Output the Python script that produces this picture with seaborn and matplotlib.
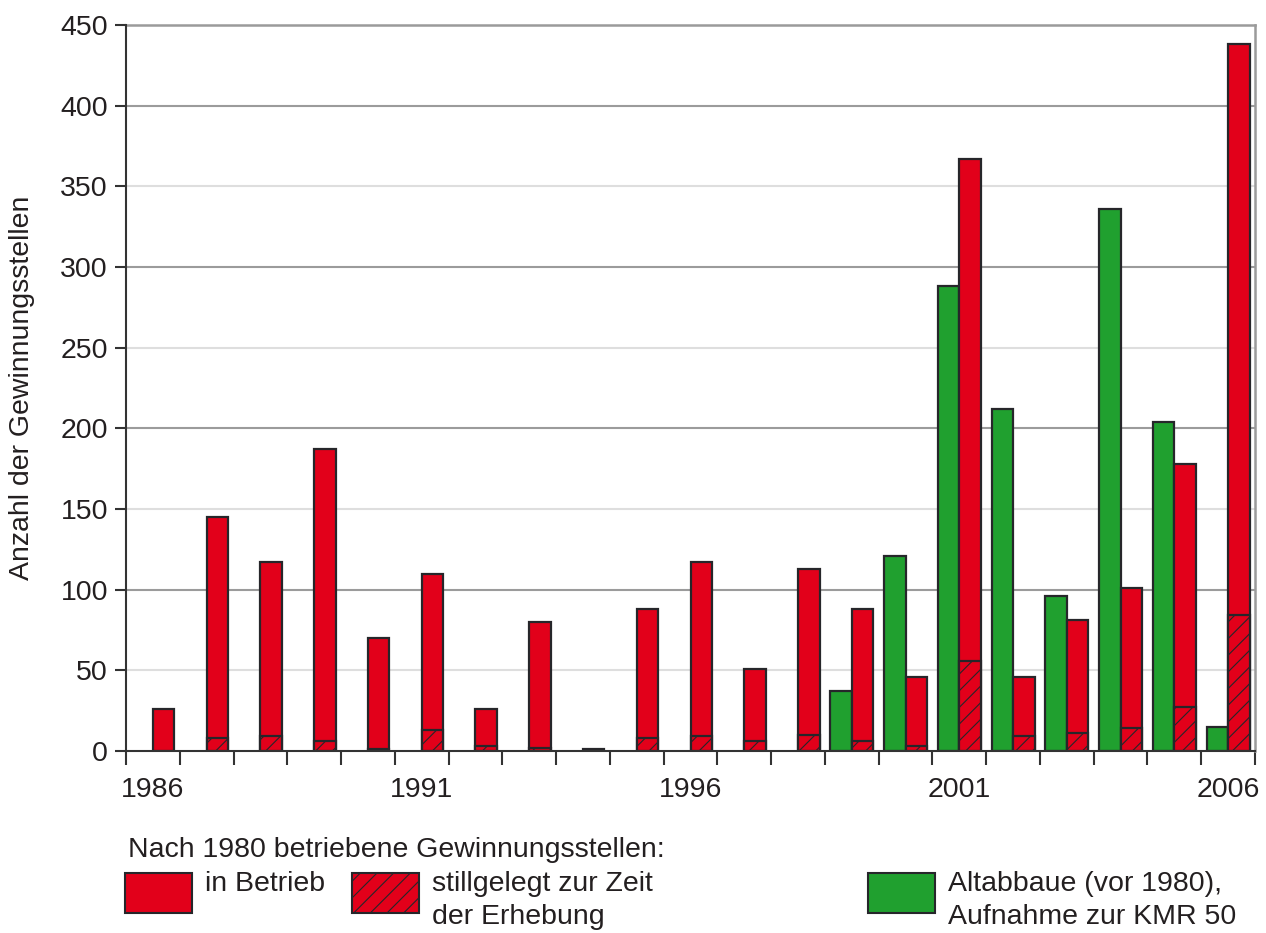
import numpy as np
import pandas as pd
import matplotlib
matplotlib.use("Agg")
import matplotlib.pyplot as plt
from matplotlib.patches import Rectangle
import seaborn as sns

# Data
years = list(range(1986, 2007))
in_betrieb_total = [26, 145, 117, 187, 70, 110, 26, 80, 1, 88, 117, 51, 113,
                    88, 46, 367, 46, 81, 101, 178, 438]
stillgelegt = [0, 8, 9, 6, 1, 13, 3, 2, 0, 8, 9, 6, 10,
               6, 3, 56, 9, 11, 14, 27, 84]
altabbaue = [0, 0, 0, 0, 0, 0, 0, 0, 0, 0, 0, 0, 0,
             37, 121, 288, 212, 96, 336, 204, 15]
year_labels = ["1986", "1991", "1996", "2001", "2006"]

RED = "#e2001a"
GREEN = "#20a02f"
EDGE = "#26262a"
TEXT = "#231f20"
FS = 20.5

sns.set_theme(style="white")
plt.rcParams['font.family'] = ['Liberation Sans', 'DejaVu Sans']
plt.rcParams['hatch.linewidth'] = 0.8


def build_frames():
    """Long-form frames for the total bars and the hatched part"""
    cats = [str(y) for y in years]
    total = pd.DataFrame({
        'Jahr': cats * 2,
        'Gruppe': ['alt'] * len(cats) + ['neu'] * len(cats),
        'Anzahl': altabbaue + in_betrieb_total,
    })
    total = total[total['Anzahl'] > 0]
    still = pd.DataFrame({'Jahr': cats, 'Gruppe': 'neu', 'Anzahl': stillgelegt})
    still = still[still['Anzahl'] > 0]
    return cats, total, still


def main():
    cats, total, still = build_frames()

    fig = plt.figure(figsize=(12.66, 9.33), dpi=100)
    ax = fig.add_axes([126 / 1266, 1 - 751 / 933, (1255 - 126) / 1266, (751 - 25) / 933])

    # grid lines: darker at hundreds
    for yv in range(50, 450, 50):
        ax.axhline(yv, color="#9b9b9b" if yv % 100 == 0 else "#dedede", lw=1.5, zorder=0.5)

    common = dict(x='Jahr', y='Anzahl', hue='Gruppe', order=cats, hue_order=['alt', 'neu'],
                  palette={'alt': GREEN, 'neu': RED}, dodge=True, width=0.8, saturation=1,
                  errorbar=None, legend=False, edgecolor=EDGE, linewidth=1.6, ax=ax)
    sns.barplot(data=total, zorder=2, **common)
    sns.barplot(data=still, hatch='//', zorder=3, **common)

    ax.set_xlim(-0.5, len(years) - 0.5)
    ax.set_ylim(0, 450)

    # axes styling
    for side in ['top', 'right']:
        ax.spines[side].set_color("#9b9b9b")
        ax.spines[side].set_linewidth(1.8)
    for side in ['left', 'bottom']:
        ax.spines[side].set_color("#333333")
        ax.spines[side].set_linewidth(1.5)
        ax.spines[side].set_zorder(5)

    ax.set_yticks(range(0, 451, 50))
    ax.tick_params(axis='y', length=8, width=1.5, color="#333333", pad=5,
                   labelsize=FS, labelcolor=TEXT, left=True)

    ax.set_xticks([cats.index(l) for l in year_labels])
    ax.set_xticklabels(year_labels)
    ax.set_xticks(np.arange(-0.5, len(years), 1), minor=True)
    ax.tick_params(axis='x', which='major', length=0, pad=19, labelsize=FS, labelcolor=TEXT)
    ax.tick_params(axis='x', which='minor', length=10, width=1.5, color="#333333", bottom=True)

    ax.set_xlabel('')
    ax.set_ylabel('Anzahl der Gewinnungsstellen', fontsize=FS, color=TEXT, labelpad=18)

    # legend drawn underneath the plot
    def fx(px):
        return px / 1266

    def fy(py):
        return 1 - py / 933

    fig.text(fx(128), fy(850), 'Nach 1980 betriebene Gewinnungsstellen:',
             fontsize=FS, color=TEXT, va='center')
    boxes = [(125, RED, None), (352, RED, '//'), (868, GREEN, None)]
    for x0, col, hatch in boxes:
        fig.add_artist(Rectangle((fx(x0), fy(913)), fx(67), 40 / 933, transform=fig.transFigure,
                                 facecolor=col, edgecolor=EDGE, lw=1.5, hatch=hatch))
    fig.text(fx(205), fy(884), 'in Betrieb', fontsize=FS, color=TEXT, va='center')
    fig.text(fx(432), fy(884), 'stillgelegt zur Zeit', fontsize=FS, color=TEXT, va='center')
    fig.text(fx(432), fy(917), 'der Erhebung', fontsize=FS, color=TEXT, va='center')
    fig.text(fx(948), fy(884), 'Altabbaue (vor 1980),', fontsize=FS, color=TEXT, va='center')
    fig.text(fx(948), fy(917), 'Aufnahme zur KMR 50', fontsize=FS, color=TEXT, va='center')

    fig.savefig('out.png', dpi=100, facecolor='white')
    plt.close(fig)


if __name__ == "__main__":
    main()
